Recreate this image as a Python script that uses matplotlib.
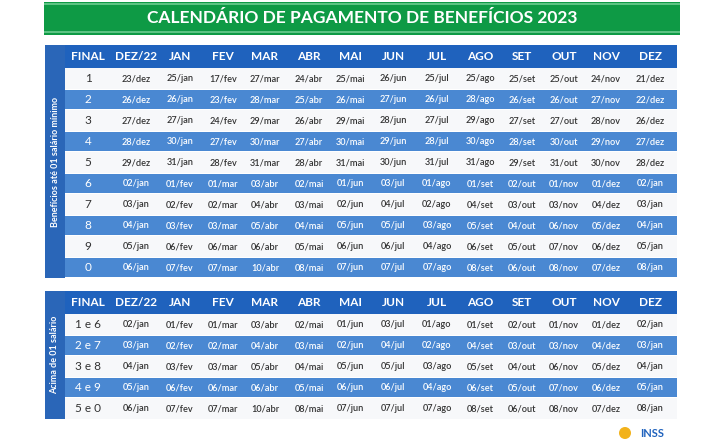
import matplotlib
matplotlib.use("Agg")
import matplotlib.pyplot as plt
from matplotlib.patches import Rectangle

TITULO = "CALENDÁRIO DE PAGAMENTO DE BENEFÍCIOS 2023"
MESES = ["DEZ/22", "JAN", "FEV", "MAR", "ABR", "MAI", "JUN", "JUL",
         "AGO", "SET", "OUT", "NOV", "DEZ"]

finais_minimo = ["1", "2", "3", "4", "5", "6", "7", "8", "9", "0"]
datas_minimo = [
    ["23/dez", "25/jan", "17/fev", "27/mar", "24/abr", "25/mai", "26/jun", "25/jul", "25/ago", "25/set", "25/out", "24/nov", "21/dez"],
    ["26/dez", "26/jan", "23/fev", "28/mar", "25/abr", "26/mai", "27/jun", "26/jul", "28/ago", "26/set", "26/out", "27/nov", "22/dez"],
    ["27/dez", "27/jan", "24/fev", "29/mar", "26/abr", "29/mai", "28/jun", "27/jul", "29/ago", "27/set", "27/out", "28/nov", "26/dez"],
    ["28/dez", "30/jan", "27/fev", "30/mar", "27/abr", "30/mai", "29/jun", "28/jul", "30/ago", "28/set", "30/out", "29/nov", "27/dez"],
    ["29/dez", "31/jan", "28/fev", "31/mar", "28/abr", "31/mai", "30/jun", "31/jul", "31/ago", "29/set", "31/out", "30/nov", "28/dez"],
    ["02/jan", "01/fev", "01/mar", "03/abr", "02/mai", "01/jun", "03/jul", "01/ago", "01/set", "02/out", "01/nov", "01/dez", "02/jan"],
    ["03/jan", "02/fev", "02/mar", "04/abr", "03/mai", "02/jun", "04/jul", "02/ago", "04/set", "03/out", "03/nov", "04/dez", "03/jan"],
    ["04/jan", "03/fev", "03/mar", "05/abr", "04/mai", "05/jun", "05/jul", "03/ago", "05/set", "04/out", "06/nov", "05/dez", "04/jan"],
    ["05/jan", "06/fev", "06/mar", "06/abr", "05/mai", "06/jun", "06/jul", "04/ago", "06/set", "05/out", "07/nov", "06/dez", "05/jan"],
    ["06/jan", "07/fev", "07/mar", "10/abr", "08/mai", "07/jun", "07/jul", "07/ago", "08/set", "06/out", "08/nov", "07/dez", "08/jan"],
]

finais_acima = ["1 e 6", "2 e 7", "3 e 8", "4 e 9", "5 e 0"]
datas_acima = [
    ["02/jan", "01/fev", "01/mar", "03/abr", "02/mai", "01/jun", "03/jul", "01/ago", "01/set", "02/out", "01/nov", "01/dez", "02/jan"],
    ["03/jan", "02/fev", "02/mar", "04/abr", "03/mai", "02/jun", "04/jul", "02/ago", "04/set", "03/out", "03/nov", "04/dez", "03/jan"],
    ["04/jan", "03/fev", "03/mar", "05/abr", "04/mai", "05/jun", "05/jul", "03/ago", "05/set", "04/out", "06/nov", "05/dez", "04/jan"],
    ["05/jan", "06/fev", "06/mar", "06/abr", "05/mai", "06/jun", "06/jul", "04/ago", "06/set", "05/out", "07/nov", "06/dez", "05/jan"],
    ["06/jan", "07/fev", "07/mar", "10/abr", "08/mai", "07/jun", "07/jul", "07/ago", "08/set", "06/out", "08/nov", "07/dez", "08/jan"],
]

AZUL_ESCURO = "#1f62bd"
AZUL_FAIXA = "#4a88d2"
AZUL_LATERAL = "#2a66b8"
VERDE = "#0e9a45"
VERDE_CLARO = "#5cc383"
FONTE = "Lato"

X0, X1 = 45, 677
COL_FINAL = 88
COL_MESES = [136, 180, 223, 265, 309, 350, 393, 437, 480, 522, 564, 606, 650]


def desenhar_tabela(ax, topo, finais, datas, rotulo, alt_cab=23, alt_linha=21):
    n = len(finais)
    base = topo + alt_cab + n * alt_linha
    ax.add_patch(Rectangle((X0, topo), X1 - X0, alt_cab, color=AZUL_ESCURO, lw=0))
    ax.add_patch(Rectangle((X0, topo), 20, base - topo, color=AZUL_LATERAL, lw=0, zorder=3))
    ax.text(COL_FINAL, topo + alt_cab / 2, "FINAL", color="white", fontsize=8.5,
            fontweight="bold", ha="center", va="center", family=FONTE)
    for x, mes in zip(COL_MESES, MESES):
        ax.text(x, topo + alt_cab / 2, mes, color="white", fontsize=8.5,
                fontweight="bold", ha="center", va="center", family=FONTE)
    for i, (final, linha) in enumerate(zip(finais, datas)):
        y = topo + alt_cab + i * alt_linha
        listrada = i % 2 == 1
        if listrada:
            ax.add_patch(Rectangle((X0, y + 1), X1 - X0, alt_linha - 2, color=AZUL_FAIXA, lw=0))
        else:
            ax.add_patch(Rectangle((X0, y), X1 - X0, alt_linha, color="#f7f8fa", lw=0, zorder=0))
        cor = "white" if listrada else "#333333"
        ax.text(COL_FINAL, y + alt_linha / 2, final, color=cor, fontsize=8.5,
                ha="center", va="center", family=FONTE)
        for x, data in zip(COL_MESES, linha):
            ax.text(x, y + alt_linha / 2, data, color=cor, fontsize=6.6,
                    fontweight="semibold", ha="center", va="center", family=FONTE)
    ax.text(X0 + 10, (topo + base) / 2, rotulo, color="white", fontsize=6.5,
            fontweight="bold", rotation=90, ha="center", va="center", family=FONTE, zorder=4)


fig = plt.figure(figsize=(7.2, 4.44), dpi=100)
ax = fig.add_axes([0, 0, 1, 1])
ax.set_xlim(0, 720)
ax.set_ylim(444, 0)
ax.axis("off")

# faixa do titulo
ax.add_patch(Rectangle((44, 2), 636, 33, color=VERDE, lw=0))
ax.add_patch(Rectangle((44, 3), 636, 2, color=VERDE_CLARO, lw=0))
ax.add_patch(Rectangle((44, 31), 636, 2, color=VERDE_CLARO, lw=0))
ax.text(362, 18, TITULO, color="white", fontsize=12.5, fontweight="bold",
        ha="center", va="center", family=FONTE)

desenhar_tabela(ax, 45, finais_minimo, datas_minimo, "Benefícios até 01 salário mínimo")
desenhar_tabela(ax, 291, finais_acima, datas_acima, "Acima de 01 salário")

ax.text(652, 433, "INSS", color=AZUL_ESCURO, fontsize=8, fontweight="bold",
        ha="center", va="center", family=FONTE)
ax.add_patch(plt.Circle((625, 433), 6, color="#f2b21b", lw=0))

fig.savefig("out.png", dpi=100)
